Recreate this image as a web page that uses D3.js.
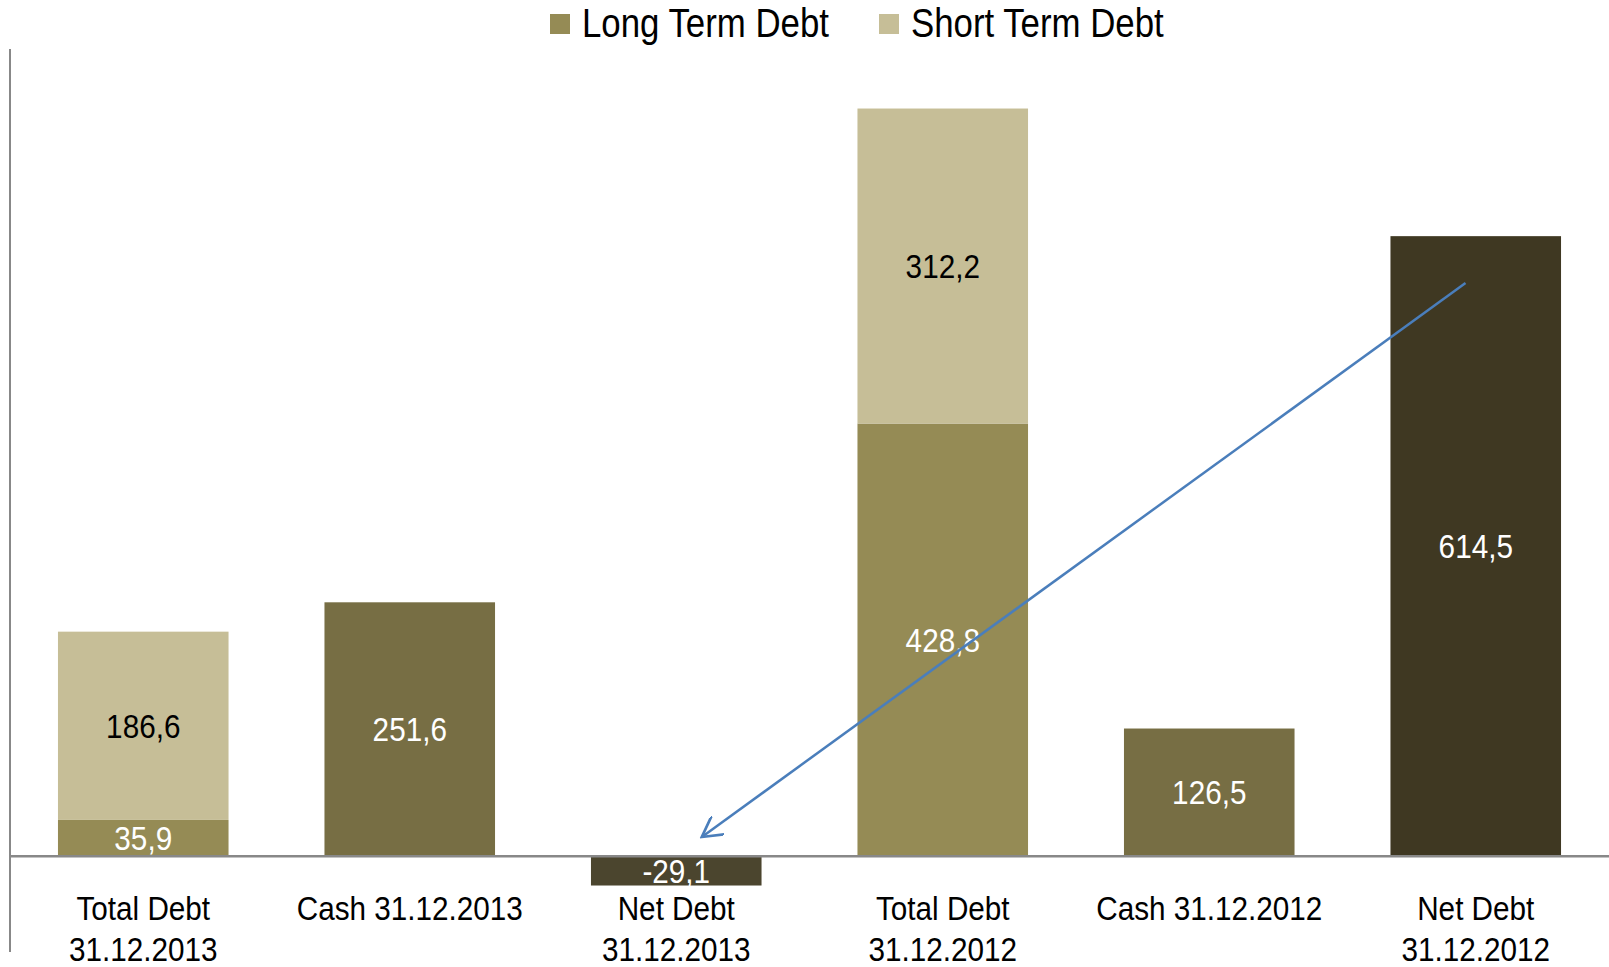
<!DOCTYPE html>
<html>
<head>
<meta charset="utf-8">
<script src="https://cdn.jsdelivr.net/npm/d3@7"></script>
<style>
  body { margin: 0; background: #fff; }
  text { font-family: "Liberation Sans", Arial, sans-serif; }
</style>
</head>
<body>
<div id="plot"></div>
<script>
// categories, split into the two label lines shown under each bar
const categories = ["td2013", "cash2013", "nd2013", "td2012", "cash2012", "nd2012"];
const labelLine1 = ["Total Debt", "Cash 31.12.2013", "Net Debt", "Total Debt", "Cash 31.12.2012", "Net Debt"];
const labelLine2 = ["31.12.2013", "", "31.12.2013", "31.12.2012", "", "31.12.2012"];

// stacked debt bars
const longTermDebt = [35.9, null, null, 428.8, null, null];
const shortTermDebt = [186.6, null, null, 312.2, null, null];
// single bars (cash and net debt)
const singleValues = [null, 251.6, -29.1, null, 126.5, 614.5];
const singleColors = [null, "#776e44", "#4b452e", null, "#776e44", "#3f3822"];

const seriesNames = ["Long Term Debt", "Short Term Debt"];
const seriesColors = ["#958b55", "#c6be97"];

// arrow from net debt 2012 down to net debt 2013 (category, value)
const arrowFrom = ["nd2012", 568];
const arrowTo = ["nd2013", 19];

const width = 1609, height = 967;

const svg = d3.select("#plot").append("svg")
  .attr("width", width)
  .attr("height", height);

const x = d3.scaleBand()
  .domain(categories)
  .range([10, 1609])
  .paddingInner(0.36)
  .paddingOuter(0.18);

const y = d3.scaleLinear()
  .domain([-95, 800])
  .range([952, 49]);

const locale = d3.formatLocale({decimal: ",", thousands: ".", grouping: [3], currency: ["", ""], minus: "-"});
const fmt = locale.format(".1f");

// squeezed text, to look like Arial Narrow
function addText(parent, tx, ty, str, size, color, anchor, squeeze) {
  return parent.append("text")
    .attr("transform", "translate(" + tx + "," + ty + ") scale(" + (squeeze || 0.9) + ",1)")
    .attr("text-anchor", anchor || "middle")
    .attr("font-size", size)
    .attr("fill", color)
    .text(str);
}

// stacked bars
const stackRows = categories.map((c, i) => ({cat: c, long: longTermDebt[i], short: shortTermDebt[i]}))
  .filter(d => d.long != null);
const stacked = d3.stack().keys(["long", "short"])(stackRows);

stacked.forEach((layer, li) => {
  svg.append("g").selectAll("rect")
    .data(layer)
    .enter()
    .append("rect")
      .attr("x", d => x(d.data.cat))
      .attr("width", x.bandwidth())
      .attr("y", d => y(d[1]))
      .attr("height", d => y(d[0]) - y(d[1]))
      .attr("fill", seriesColors[li]);

  const g = svg.append("g");
  layer.forEach(d => {
    addText(g, x(d.data.cat) + x.bandwidth() / 2, (y(d[0]) + y(d[1])) / 2 + 12,
      fmt(d[1] - d[0]), 33, li == 0 ? "#fff" : "#000");
  });
});

// single bars
const singleRows = categories.map((c, i) => ({cat: c, v: singleValues[i], color: singleColors[i]}))
  .filter(d => d.v != null);

svg.append("g").selectAll("rect")
  .data(singleRows)
  .enter()
  .append("rect")
    .attr("x", d => x(d.cat))
    .attr("width", x.bandwidth())
    .attr("y", d => y(Math.max(0, d.v)))
    .attr("height", d => Math.abs(y(d.v) - y(0)))
    .attr("fill", d => d.color);

const singleLabels = svg.append("g");
singleRows.forEach(d => {
  addText(singleLabels, x(d.cat) + x.bandwidth() / 2, (y(d.v) + y(0)) / 2 + 12, fmt(d.v), 33, "#fff");
});

// axes lines
svg.append("line")
  .attr("x1", 10).attr("x2", 10)
  .attr("y1", y.range()[1]).attr("y2", y.range()[0])
  .attr("stroke", "#888").attr("stroke-width", 2);
svg.append("line")
  .attr("x1", 10).attr("x2", width)
  .attr("y1", y(0)).attr("y2", y(0))
  .attr("stroke", "#888").attr("stroke-width", 2.5);

// category labels
const catLabels = svg.append("g");
categories.forEach((c, i) => {
  const cx = x(c) + x.bandwidth() / 2;
  addText(catLabels, cx, 920, labelLine1[i], 33, "#000");
  if (labelLine2[i]) addText(catLabels, cx, 961, labelLine2[i], 33, "#000");
});

// arrow
svg.append("defs").append("marker")
  .attr("id", "arrowhead")
  .attr("viewBox", "0 0 10 10")
  .attr("refX", 9).attr("refY", 5)
  .attr("markerWidth", 9).attr("markerHeight", 9)
  .attr("markerUnits", "strokeWidth")
  .attr("orient", "auto")
  .append("path")
    .attr("d", "M0,0 L9,5 L0,10")
    .attr("fill", "none")
    .attr("stroke", "#4a7ebb")
    .attr("stroke-width", 1.2);

svg.append("line")
  .attr("x1", x(arrowFrom[0]) + x.bandwidth() * 0.44)
  .attr("y1", y(arrowFrom[1]))
  .attr("x2", x(arrowTo[0]) + x.bandwidth() * 0.65)
  .attr("y2", y(arrowTo[1]))
  .attr("stroke", "#4a7ebb")
  .attr("stroke-width", 2.5)
  .attr("marker-end", "url(#arrowhead)");

// legend
const legend = svg.append("g");
const legendX = [550, 879];
seriesNames.forEach((name, i) => {
  legend.append("rect")
    .attr("x", legendX[i]).attr("y", 14)
    .attr("width", 20).attr("height", 20)
    .attr("fill", seriesColors[i]);
  addText(legend, legendX[i] + 32, 37, name, 40, "#000", "start", 0.87);
});
</script>
</body>
</html>
